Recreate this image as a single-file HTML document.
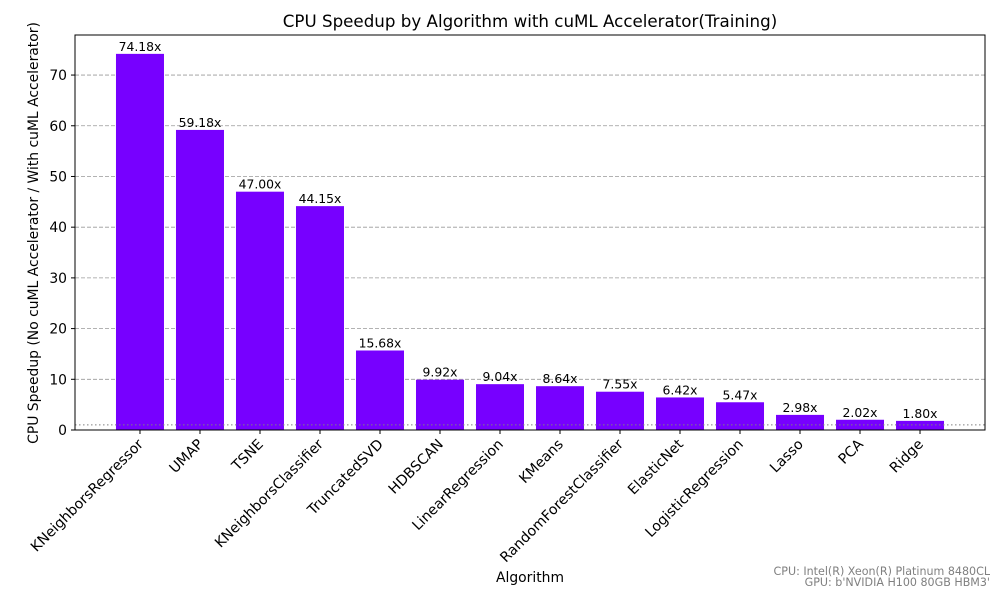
<!DOCTYPE html>
<html><head><meta charset="utf-8"><style>
body{margin:0;background:#fff;}
svg{font-family:"DejaVu Sans","Liberation Sans",sans-serif;}
</style></head><body>
<svg id="chart" width="1000" height="600" viewBox="0 0 1000 600" xmlns="http://www.w3.org/2000/svg">
<rect width="1000" height="600" fill="#fff"/>
<text x="530" y="27" font-size="16.7" text-anchor="middle">CPU Speedup by Algorithm with cuML Accelerator(Training)</text>
<g id="grid"></g>
<g id="bars"></g>
<g id="axes"></g>
<text x="530" y="582" font-size="13.9" text-anchor="middle">Algorithm</text>
<text transform="translate(38,233) rotate(-90)" font-size="13.9" text-anchor="middle">CPU Speedup (No cuML Accelerator / With cuML Accelerator)</text>
<text x="990" y="575" font-size="11.1" fill="#808080" text-anchor="end">CPU: Intel(R) Xeon(R) Platinum 8480CL</text>
<text x="990" y="586" font-size="11.1" fill="#808080" text-anchor="end">GPU: b'NVIDIA H100 80GB HBM3'</text>
</svg>
<script>
const categories=["KNeighborsRegressor","UMAP","TSNE","KNeighborsClassifier","TruncatedSVD","HDBSCAN","LinearRegression","KMeans","RandomForestClassifier","ElasticNet","LogisticRegression","Lasso","PCA","Ridge"];
const speedups=[74.18,59.18,47.00,44.15,15.68,9.92,9.04,8.64,7.55,6.42,5.47,2.98,2.02,1.80];
const yTicks=[0,10,20,30,40,50,60,70];
const baseline=1;

const NS="http://www.w3.org/2000/svg";
const L=75,R=985,T=35,B=430;
const yMax=77.9;
const xMin=-1.083,xMax=categories.length-1+1.083;
const xs=i=>L+(i-xMin)/(xMax-xMin)*(R-L);
const ys=v=>B-v/yMax*(B-T);
function mk(tag,attrs,parent){const e=document.createElementNS(NS,tag);for(const k in attrs)e.setAttribute(k,attrs[k]);parent.appendChild(e);return e;}
const grid=document.getElementById('grid'),bars=document.getElementById('bars'),axes=document.getElementById('axes');
yTicks.forEach(t=>{
  const y=ys(t);
  if(t>0){const g=mk('line',{x1:L,x2:R,y1:y,y2:y,stroke:'#999','stroke-dasharray':'4,2','stroke-width':0.8},grid);
  
  }
  mk('line',{x1:L-4,x2:L,y1:y,y2:y,stroke:'#000'},axes);
  const tx=mk('text',{x:L-8,y:y+5,'font-size':13.9,'text-anchor':'end'},axes);tx.textContent=t;
  
  
});
const bw=48/60;
categories.forEach((c,i)=>{
  const cx=xs(i),w=bw*(xs(1)-xs(0)),y=ys(speedups[i]);
  const r=mk('rect',{x:cx-w/2,y:y,width:w,height:B-y,fill:'#7700ff'},bars);
  
  
  const v=mk('text',{x:cx,y:y-3,'font-size':12.4,'text-anchor':'middle'},bars);v.textContent=speedups[i].toFixed(2)+'x';
  
  
  mk('line',{x1:cx,x2:cx,y1:B,y2:B+4,stroke:'#000'},axes);
  const lb=mk('text',{transform:`translate(${cx+4},${B+15}) rotate(-45)`,'font-size':14.2,'text-anchor':'end'},axes);lb.textContent=c;
  
  
});
const bl=mk('line',{x1:L,x2:R,y1:ys(baseline),y2:ys(baseline),stroke:'#808080','stroke-dasharray':'1.5,2.5','stroke-width':1},bars);


const fr=mk('rect',{x:L,y:T,width:R-L,height:B-T,fill:'none',stroke:'#000','stroke-width':1},axes);


</script>
</body></html>
